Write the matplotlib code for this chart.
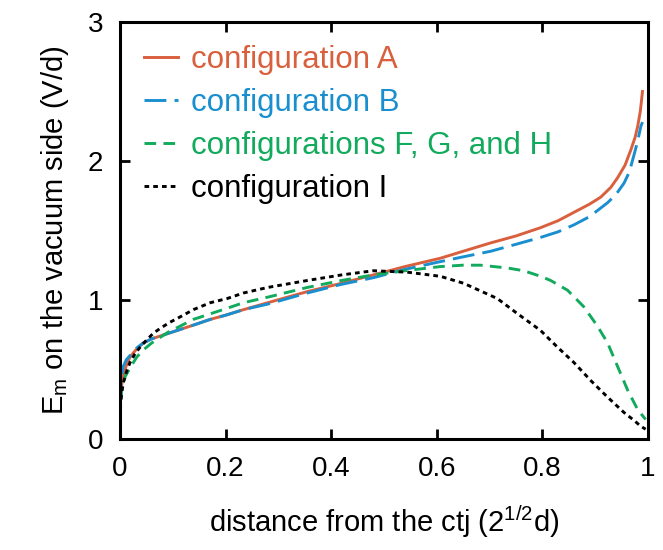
import matplotlib
matplotlib.use("Agg")
import matplotlib.pyplot as plt

plt.rcParams['font.family'] = ['Liberation Sans', 'DejaVu Sans']
plt.rcParams['mathtext.default'] = 'regular'

# configuration A
xa = [0, 0.002, 0.006, 0.012, 0.019, 0.03, 0.044, 0.06, 0.076, 0.092, 0.108, 0.14, 0.171, 0.2, 0.234,
      0.28, 0.355, 0.42, 0.48, 0.54, 0.607, 0.65, 0.702, 0.75, 0.797, 0.83, 0.86, 0.89, 0.911, 0.93,
      0.943, 0.957, 0.968, 0.976, 0.981, 0.986, 0.99]
ya = [0.22, 0.36, 0.45, 0.53, 0.59, 0.64, 0.69, 0.72, 0.74, 0.76, 0.78, 0.82, 0.86, 0.89, 0.93,
      0.98, 1.06, 1.12, 1.18, 1.24, 1.30, 1.35, 1.41, 1.46, 1.52, 1.57, 1.63, 1.69, 1.74, 1.81,
      1.88, 1.97, 2.08, 2.17, 2.25, 2.36, 2.50]
# configuration B
xb = [0, 0.002, 0.006, 0.012, 0.019, 0.03, 0.044, 0.06, 0.076, 0.092, 0.108, 0.14, 0.171, 0.2, 0.234,
      0.28, 0.355, 0.417, 0.48, 0.54, 0.6, 0.65, 0.702, 0.75, 0.797, 0.83, 0.86, 0.89, 0.924, 0.94,
      0.955, 0.965, 0.973, 0.98, 0.987, 0.99]
yb = [0.25, 0.42, 0.52, 0.57, 0.60, 0.65, 0.69, 0.72, 0.74, 0.76, 0.78, 0.82, 0.86, 0.89, 0.93,
      0.97, 1.05, 1.11, 1.16, 1.22, 1.27, 1.31, 1.35, 1.40, 1.45, 1.49, 1.54, 1.60, 1.70, 1.76,
      1.84, 1.92, 2.03, 2.13, 2.25, 2.28]
# configurations F, G, and H
xf = [0, 0.003, 0.01, 0.022, 0.032, 0.044, 0.06, 0.076, 0.092, 0.108, 0.139, 0.171, 0.203, 0.234,
      0.28, 0.355, 0.42, 0.48, 0.54, 0.607, 0.65, 0.683, 0.734, 0.765, 0.797, 0.816, 0.848, 0.879,
      0.905, 0.924, 0.943, 0.962, 0.981, 0.996]
yf = [0.15, 0.35, 0.45, 0.53, 0.59, 0.64, 0.69, 0.73, 0.77, 0.80, 0.86, 0.90, 0.94, 0.98,
      1.02, 1.09, 1.14, 1.18, 1.21, 1.24, 1.25, 1.25, 1.23, 1.21, 1.17, 1.14, 1.07, 0.95,
      0.81, 0.69, 0.52, 0.35, 0.21, 0.14]
# configuration I
xi = [0, 0.003, 0.006, 0.012, 0.019, 0.028, 0.038, 0.05, 0.063, 0.078, 0.095, 0.115, 0.139, 0.171,
      0.203, 0.234, 0.28, 0.355, 0.42, 0.48, 0.544, 0.607, 0.651, 0.715, 0.75, 0.797, 0.829, 0.86,
      0.892, 0.924, 0.955, 0.975, 0.987, 0.996]
yi = [0.22, 0.32, 0.40, 0.48, 0.55, 0.61, 0.66, 0.71, 0.76, 0.80, 0.84, 0.88, 0.93, 0.98,
      1.01, 1.05, 1.09, 1.14, 1.18, 1.21, 1.20, 1.17, 1.12, 1.01, 0.91, 0.78, 0.66, 0.55,
      0.42, 0.30, 0.19, 0.13, 0.09, 0.07]

labels = ["configuration A", "configuration B", "configurations F, G, and H", "configuration I"]
colors = ["#d95f3d", "#1a8fd0", "#12aa5c", "black"]

fig = plt.figure(figsize=(6.63, 5.5), dpi=100)
ax = fig.add_axes([0.181, 0.202, 0.796, 0.758])

lw = 2.1
ax.plot(xa, ya, color=colors[0], lw=lw, label=labels[0])
ax.plot(xb, yb, color=colors[1], lw=lw, dashes=(7.5, 2.8), label=labels[1])
ax.plot(xf, yf, color=colors[2], lw=lw, dashes=(4, 2.5), label=labels[2])
ax.plot(xi, yi, color=colors[3], lw=lw, dashes=(1.6, 1.4), label=labels[3])

ax.set_xlim(0, 1)
ax.set_ylim(0, 3)
ax.set_xticks([0, 0.2, 0.4, 0.6, 0.8, 1])
ax.set_xticklabels(["0", "0.2", "0.4", "0.6", "0.8", "1"])
ax.set_yticks([0, 1, 2, 3])
ax.tick_params(direction='in', top=True, right=True, length=7, width=2, labelsize=20, pad=12)
for s in ax.spines.values():
    s.set_linewidth(2.2)

ax.set_xlabel("distance from the ctj (2$^{1/2}$d)", fontsize=21, labelpad=16)
ax.set_ylabel("E$_m$ on the vacuum side (V/d)", fontsize=21, labelpad=12)

leg = ax.legend(loc='upper left', frameon=False, fontsize=22.5, handlelength=1.1,
                handletextpad=0.4, labelspacing=0.42, borderaxespad=0.2,
                bbox_to_anchor=(0.01, 0.99))
for t, c in zip(leg.get_texts(), colors):
    t.set_color(c)

fig.savefig("out.png", dpi=100)
